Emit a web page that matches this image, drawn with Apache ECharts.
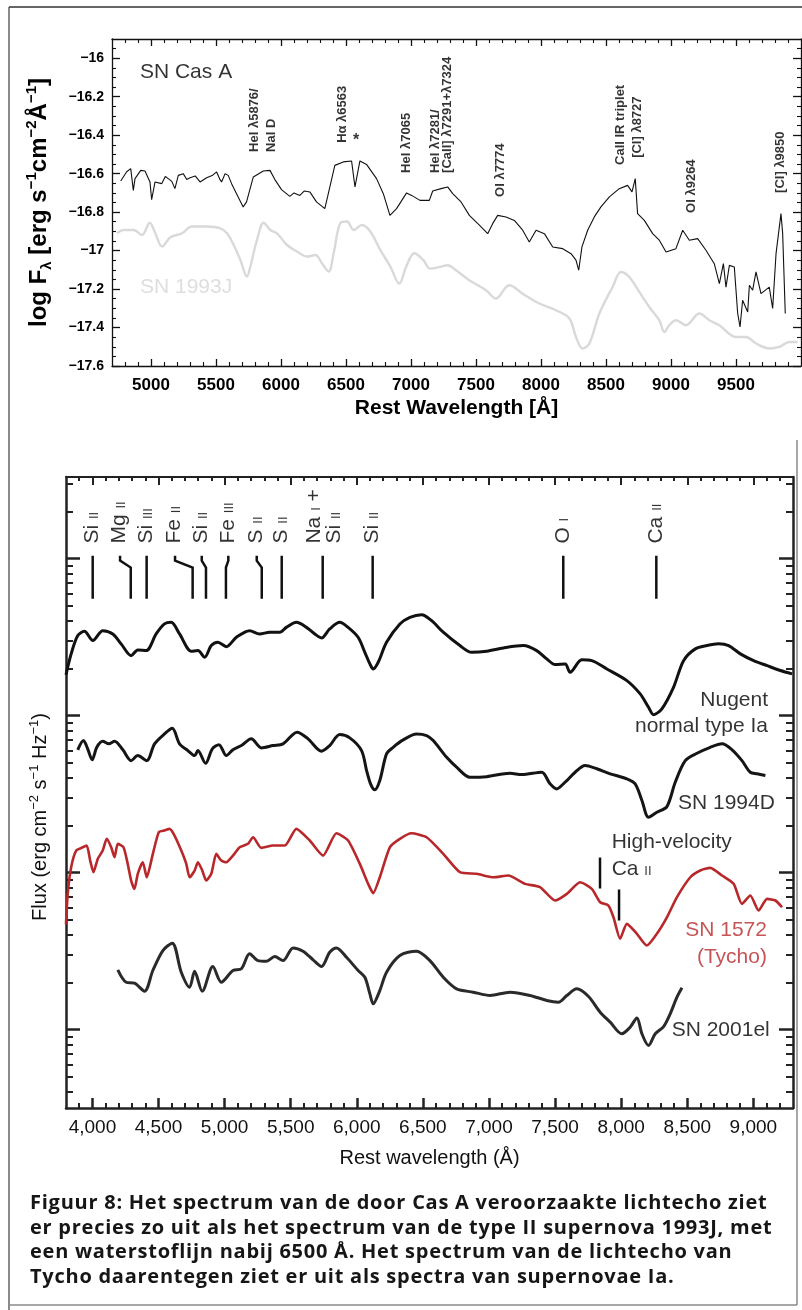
<!DOCTYPE html>
<html>
<head>
<meta charset="utf-8">
<script src="https://cdn.jsdelivr.net/npm/echarts@6/dist/echarts.min.js"></script>
<style>
html, body { margin: 0; padding: 0; background: #fff; }
#main { position: absolute; left: 0; top: 0; width: 802px; height: 1310px; }
#caption {
    position: absolute; left: 30px; top: 1190px;
    font-family: "Open Sans"; font-weight: 700; font-size: 20px; line-height: 24.5px;
    letter-spacing: 0.75px; color: #161616; white-space: nowrap;
}
</style>
</head>
<body>
<div id="main"></div>
<div id="caption">Figuur 8: Het spectrum van de door Cas A veroorzaakte lichtecho ziet<br>er precies zo uit als het spectrum van de type II supernova 1993J, met<br>een waterstoflijn nabij 6500 Å. Het spectrum van de lichtecho van<br>Tycho daarentegen ziet er uit als spectra van supernovae Ia.</div>
<script>
// ---- bovenste paneel: lichtecho Cas A vs SN 1993J (log F_lambda) ----
var casAWave = [4767, 4813, 4844, 4864, 4877, 4921, 4954, 4992, 5005, 5031, 5082, 5110, 5133, 5160, 5184, 5210, 5248, 5275, 5300, 5340, 5377, 5428, 5470, 5505, 5530, 5543, 5570, 5594, 5620, 5658, 5709, 5735, 5787, 5864, 5915, 5953, 6004, 6068, 6100, 6145, 6180, 6222, 6273, 6337, 6376, 6414, 6479, 6543, 6569, 6607, 6658, 6735, 6787, 6838, 6889, 6966, 7005, 7069, 7141, 7167, 7231, 7282, 7321, 7385, 7449, 7526, 7590, 7628, 7667, 7731, 7795, 7859, 7910, 7962, 8026, 8090, 8167, 8231, 8269, 8290, 8315, 8359, 8410, 8461, 8526, 8602, 8666, 8700, 8725, 8743, 8795, 8859, 8910, 8962, 9038, 9090, 9141, 9205, 9269, 9333, 9372, 9403, 9423, 9449, 9487, 9513, 9531, 9551, 9590, 9603, 9628, 9654, 9692, 9756, 9782, 9808, 9846, 9859, 9879];
var casAFlux = [-16.638, -16.590, -16.574, -16.687, -16.626, -16.583, -16.586, -16.643, -16.735, -16.643, -16.652, -16.615, -16.626, -16.640, -16.678, -16.609, -16.600, -16.630, -16.621, -16.612, -16.643, -16.621, -16.610, -16.591, -16.630, -16.643, -16.600, -16.609, -16.652, -16.704, -16.773, -16.747, -16.617, -16.586, -16.583, -16.631, -16.683, -16.718, -16.700, -16.713, -16.690, -16.695, -16.747, -16.782, -16.669, -16.557, -16.539, -16.534, -16.669, -16.534, -16.552, -16.626, -16.704, -16.817, -16.782, -16.700, -16.713, -16.739, -16.739, -16.690, -16.678, -16.669, -16.704, -16.747, -16.817, -16.868, -16.912, -16.860, -16.817, -16.825, -16.843, -16.894, -16.955, -16.894, -16.912, -16.981, -16.990, -17.016, -17.050, -17.102, -16.981, -16.894, -16.825, -16.773, -16.721, -16.678, -16.661, -16.695, -16.626, -16.808, -16.843, -16.912, -16.946, -17.007, -16.990, -16.894, -16.946, -16.938, -16.998, -17.068, -17.172, -17.068, -17.190, -17.077, -17.085, -17.327, -17.397, -17.258, -17.319, -17.180, -17.206, -17.111, -17.224, -17.190, -17.301, -17.016, -16.808, -16.912, -17.327];

var sn93jWave = [4738, 4790, 4867, 4931, 4990, 5033, 5085, 5149, 5238, 5315, 5431, 5533, 5585, 5636, 5687, 5738, 5764, 5815, 5867, 5918, 5969, 6046, 6123, 6200, 6264, 6315, 6367, 6405, 6456, 6508, 6559, 6623, 6687, 6764, 6841, 6910, 6962, 7026, 7095, 7146, 7223, 7282, 7346, 7449, 7577, 7654, 7756, 7859, 7987, 8115, 8218, 8269, 8320, 8372, 8449, 8551, 8615, 8679, 8756, 8833, 8910, 8949, 8987, 9038, 9115, 9218, 9295, 9372, 9500, 9577, 9654, 9756, 9833, 9910, 9974];
var sn93jFlux = [-16.910, -16.893, -16.893, -16.919, -16.855, -16.910, -16.979, -16.931, -16.910, -16.875, -16.875, -16.884, -16.910, -16.971, -17.048, -17.135, -17.083, -16.945, -16.855, -16.893, -16.910, -16.971, -17.005, -17.031, -17.023, -17.066, -17.109, -17.014, -16.858, -16.849, -16.893, -16.867, -16.901, -16.997, -17.083, -17.172, -17.085, -17.014, -17.050, -17.094, -17.085, -17.076, -17.102, -17.154, -17.206, -17.249, -17.180, -17.224, -17.275, -17.310, -17.353, -17.449, -17.509, -17.483, -17.327, -17.189, -17.111, -17.137, -17.215, -17.293, -17.362, -17.423, -17.388, -17.362, -17.388, -17.327, -17.362, -17.388, -17.449, -17.449, -17.483, -17.509, -17.501, -17.475, -17.475];

var topXTicks = [5000, 5500, 6000, 6500, 7000, 7500, 8000, 8500, 9000, 9500];
var topYTicks = [-17.6, -17.4, -17.2, -17, -16.8, -16.6, -16.4, -16.2, -16];

// lijnidentificaties bovenste paneel: tekst, golflengte, log F onderkant tekst
var topNoteText = ['HeI \u03bb5876/', 'NaI D', 'H\u03b1 \u03bb6563', 'HeI \u03bb7065', 'HeI \u03bb7281/', '[CaII] \u03bb7291+\u03bb7324', 'OI \u03bb7774', 'CaII IR triplet', '[CI] \u03bb8727', 'OI \u03bb9264', '[CI] \u03bb9850'];
var topNoteWave = [5792, 5923, 6475, 6967, 7185, 7277, 7685, 8613, 8741, 9159, 9838];
var topNoteFlux = [-16.487, -16.487, -16.44, -16.596, -16.596, -16.596, -16.721, -16.555, -16.518, -16.804, -16.70];

// ---- onderste paneel: type Ia spectra (log flux, willekeurige eenheden) ----
var nugentWave = [3800, 3839, 3889, 3939, 4003, 4078, 4154, 4217, 4293, 4343, 4407, 4482, 4545, 4596, 4659, 4748, 4798, 4849, 4899, 4949, 5013, 5089, 5189, 5265, 5341, 5417, 5467, 5543, 5619, 5682, 5733, 5795, 5871, 5934, 6010, 6061, 6099, 6124, 6162, 6225, 6326, 6402, 6490, 6566, 6654, 6780, 6869, 6983, 7109, 7260, 7361, 7437, 7500, 7576, 7614, 7702, 7778, 7892, 8043, 8144, 8207, 8245, 8308, 8396, 8472, 8561, 8649, 8737, 8813, 8902, 9002, 9104, 9205, 9293];
var nugentFlux = [2.26, 2.393, 2.51, 2.537, 2.478, 2.541, 2.52, 2.457, 2.382, 2.418, 2.414, 2.52, 2.584, 2.594, 2.52, 2.41, 2.414, 2.371, 2.446, 2.467, 2.439, 2.499, 2.541, 2.52, 2.531, 2.531, 2.562, 2.594, 2.562, 2.52, 2.495, 2.552, 2.594, 2.562, 2.499, 2.403, 2.329, 2.297, 2.34, 2.467, 2.584, 2.626, 2.643, 2.605, 2.531, 2.446, 2.403, 2.41, 2.431, 2.446, 2.414, 2.361, 2.325, 2.329, 2.276, 2.355, 2.35, 2.297, 2.223, 2.138, 2.053, 2.006, 2.043, 2.18, 2.35, 2.425, 2.446, 2.457, 2.446, 2.393, 2.35, 2.318, 2.287, 2.266];

var sn94dWave = [3889, 3932, 3964, 3998, 4033, 4078, 4124, 4167, 4230, 4293, 4343, 4411, 4470, 4545, 4604, 4659, 4722, 4773, 4798, 4856, 4907, 4957, 5013, 5063, 5127, 5202, 5278, 5366, 5442, 5548, 5631, 5733, 5795, 5871, 5947, 6036, 6074, 6104, 6136, 6174, 6225, 6275, 6351, 6452, 6528, 6578, 6680, 6755, 6856, 6983, 7159, 7248, 7399, 7462, 7513, 7563, 7589, 7652, 7727, 7816, 7917, 8043, 8106, 8157, 8207, 8270, 8346, 8409, 8485, 8574, 8674, 8763, 8839, 8914, 8977, 9028, 9091];
var sn94dFlux = [1.782, 1.841, 1.788, 1.718, 1.798, 1.836, 1.82, 1.836, 1.782, 1.713, 1.745, 1.713, 1.82, 1.883, 1.919, 1.82, 1.777, 1.745, 1.777, 1.696, 1.788, 1.815, 1.745, 1.782, 1.809, 1.852, 1.794, 1.809, 1.82, 1.894, 1.852, 1.773, 1.809, 1.879, 1.858, 1.777, 1.65, 1.565, 1.527, 1.586, 1.756, 1.798, 1.845, 1.883, 1.873, 1.841, 1.734, 1.671, 1.607, 1.611, 1.633, 1.624, 1.639, 1.565, 1.533, 1.565, 1.586, 1.639, 1.682, 1.661, 1.629, 1.597, 1.565, 1.459, 1.352, 1.384, 1.42, 1.575, 1.713, 1.76, 1.798, 1.82, 1.782, 1.713, 1.639, 1.629, 1.618];

var tychoWave = [3800, 3813, 3839, 3877, 3927, 3957, 3983, 4008, 4040, 4078, 4108, 4142, 4167, 4192, 4235, 4267, 4293, 4318, 4343, 4381, 4411, 4457, 4502, 4545, 4583, 4621, 4672, 4710, 4735, 4773, 4798, 4831, 4861, 4899, 4937, 4975, 5013, 5063, 5114, 5177, 5215, 5278, 5366, 5455, 5543, 5644, 5745, 5846, 5934, 6023, 6086, 6124, 6174, 6250, 6326, 6414, 6528, 6654, 6780, 6907, 7033, 7146, 7273, 7386, 7500, 7589, 7689, 7778, 7841, 7904, 7942, 7992, 8043, 8119, 8194, 8270, 8346, 8422, 8523, 8599, 8674, 8763, 8851, 8914, 8977, 9040, 9104, 9167, 9217];
var tychoFlux = [0.67, 0.864, 1.034, 1.14, 1.161, 1.172, 1.076, 1.002, 1.087, 1.14, 1.215, 1.161, 1.098, 1.183, 1.161, 1.055, 0.949, 0.896, 0.992, 1.066, 0.97, 1.119, 1.257, 1.268, 1.278, 1.236, 1.14, 1.055, 0.97, 1.013, 1.066, 1.013, 0.949, 0.992, 1.119, 1.076, 1.066, 1.108, 1.161, 1.183, 1.225, 1.157, 1.172, 1.172, 1.278, 1.204, 1.108, 1.25, 1.204, 1.055, 0.928, 0.868, 0.97, 1.161, 1.215, 1.25, 1.225, 1.119, 1.002, 0.992, 0.97, 0.981, 0.928, 0.907, 0.822, 0.864, 0.938, 0.896, 0.811, 0.79, 0.715, 0.578, 0.673, 0.61, 0.535, 0.61, 0.715, 0.843, 0.97, 1.013, 1.03, 0.981, 0.928, 0.8, 0.854, 0.758, 0.832, 0.822, 0.779];

var sn01elWave = [4192, 4255, 4318, 4394, 4457, 4533, 4604, 4672, 4735, 4773, 4831, 4911, 4975, 5063, 5127, 5189, 5252, 5316, 5379, 5442, 5518, 5593, 5669, 5733, 5795, 5846, 5922, 6010, 6061, 6099, 6124, 6174, 6225, 6326, 6452, 6553, 6654, 6755, 6881, 7008, 7159, 7311, 7437, 7525, 7589, 7664, 7753, 7841, 7917, 8005, 8068, 8119, 8157, 8207, 8258, 8321, 8371, 8422, 8460];
var sn01elFlux = [0.38, 0.301, 0.295, 0.244, 0.376, 0.503, 0.55, 0.365, 0.269, 0.371, 0.244, 0.401, 0.301, 0.376, 0.387, 0.482, 0.439, 0.435, 0.465, 0.439, 0.52, 0.499, 0.444, 0.401, 0.492, 0.52, 0.46, 0.376, 0.333, 0.227, 0.164, 0.248, 0.365, 0.471, 0.499, 0.439, 0.333, 0.259, 0.238, 0.217, 0.238, 0.217, 0.185, 0.174, 0.217, 0.259, 0.21, 0.11, 0.047, -0.027, 0.015, 0.074, -0.027, -0.102, -0.027, 0.019, 0.1, 0.206, 0.266];

var botXTicks = [4000, 4500, 5000, 5500, 6000, 6500, 7000, 7500, 8000, 8500, 9000];
var botYDecades = [0, 1, 2, 3];

// lijnidentificaties onderste paneel
var idText = ['{a|Si} {s|II}', '{a|Mg} {s|II}', '{a|Si} {s|III}', '{a|Fe} {s|II}', '{a|Si} {s|II}', '{a|Fe} {s|III}', '{a|S} {s|II}', '{a|S} {s|II}', '{a|Na} {s|I} {a|+}\n{a|Si} {s|II}', '{a|Si} {s|II}', '{a|O} {s|I}', '{a|Ca} {s|II}'];
var idTopWave = [4002, 4209, 4410, 4625, 4827, 5028, 5243, 5432, 5742, 6120, 7562, 8266];
var idBottomWave = [4002, 4290, 4410, 4758, 4859, 5010, 5281, 5432, 5742, 6120, 7562, 8266];
var idLabelWave = [4002, 4209, 4410, 4625, 4827, 5028, 5243, 5432, 5759, 6120, 7562, 8266];
var hvCaWave = [7840, 7984];

var FONT = 'Liberation Sans';

function zip(w, f) {
    return w.map(function (x, i) { return [x, f[i]]; });
}
function steps(a, b, d, skip) {
    var out = [];
    for (var v = a; v <= b + 1e-9; v += d) {
        v = Math.round(v * 1000) / 1000;
        if (skip && Math.abs(v / skip - Math.round(v / skip)) < 1e-6) continue;
        out.push(v);
    }
    return out;
}
var botYMinor = [];
for (var n = -1; n <= 3; n++) {
    for (var k = 2; k <= 9; k++) {
        var lv = n + Math.log10(k);
        if (lv > -0.5 && lv < 3.52) botYMinor.push(lv);
    }
}

function tickAxis(grid, pos, min, max, major, len, width, color, showLine) {
    return {
        type: 'value', gridIndex: grid, position: pos, min: min, max: max,
        axisLine: { show: showLine, onZero: false, lineStyle: { color: color, width: width } },
        axisTick: { show: true, inside: true, length: len, customValues: major, lineStyle: { color: color, width: width } },
        axisLabel: { show: false },
        splitLine: { show: false }
    };
}

// rijke tekst: kleine romeinse cijfers op de basislijn
function richSet(size, lh, color) {
    return {
        a: { fontFamily: FONT, fontSize: size, lineHeight: lh, verticalAlign: 'bottom', color: color },
        s: { fontFamily: FONT, fontSize: 13, lineHeight: 13, verticalAlign: 'bottom', padding: [0, 0, 2, 0], color: color }
    };
}

var chart = echarts.init(document.getElementById('main'));

var xTopMain = tickAxis(0, 'bottom', 4700, 10000, topXTicks, 7, 1.3, '#111', true);
xTopMain.axisLabel = {
    show: true, customValues: topXTicks, margin: 11,
    fontFamily: FONT, fontWeight: 'bold', fontSize: 17, color: '#000',
    formatter: function (v) { return String(v); }
};
xTopMain.name = 'Rest Wavelength [\u00c5]';
xTopMain.nameLocation = 'middle';
xTopMain.nameGap = 32;
xTopMain.nameTextStyle = { fontFamily: FONT, fontWeight: 'bold', fontSize: 21, color: '#000' };

var yTopMain = tickAxis(0, 'left', -17.6, -15.9, topYTicks, 8, 1.3, '#111', true);
yTopMain.axisLabel = {
    show: true, customValues: topYTicks, margin: 8,
    fontFamily: FONT, fontWeight: 'bold', fontSize: 14, color: '#000',
    formatter: function (v) { return '\u2212' + (Math.round(Math.abs(v) * 10) / 10).toString(); }
};
yTopMain.name = '{b|log F}{s|\u03bb}{b| [erg s}{p|\u22121}{b|cm}{p|\u22122}{b|\u00c5}{p|\u22121}{b|]}';
yTopMain.nameLocation = 'middle';
yTopMain.nameGap = 58;
yTopMain.nameTextStyle = {
    fontFamily: FONT, fontWeight: 'bold', fontSize: 24, color: '#000',
    rich: {
        b: { fontFamily: FONT, fontWeight: 'bold', fontSize: 24, lineHeight: 30, color: '#000' },
        s: { fontFamily: FONT, fontWeight: 'bold', fontSize: 15, lineHeight: 30, verticalAlign: 'bottom', color: '#000' },
        p: { fontFamily: FONT, fontWeight: 'bold', fontSize: 15, lineHeight: 30, verticalAlign: 'top', color: '#000' }
    }
};

var xBotMain = tickAxis(1, 'bottom', 3800, 9300, botXTicks, 10, 2.5, '#222', true);
xBotMain.axisLabel = {
    show: true, customValues: botXTicks, margin: 10,
    fontFamily: FONT, fontSize: 19, color: '#111',
    formatter: function (v) { return v.toLocaleString('en-US'); }
};
xBotMain.name = 'Rest wavelength (\u00c5)';
xBotMain.nameLocation = 'middle';
xBotMain.nameGap = 40;
xBotMain.nameTextStyle = { fontFamily: FONT, fontSize: 20, color: '#111' };

var option = {
    animation: false,
    backgroundColor: '#fff',
    grid: [
        { left: 112, top: 39, width: 689, height: 327, outerBoundsMode: 'none' },
        { left: 66, top: 477, width: 727, height: 631, outerBoundsMode: 'none' }
    ],
    xAxis: [
        xTopMain,
        tickAxis(0, 'bottom', 4700, 10000, steps(4800, 9900, 100, 500), 4, 1.1, '#111', false),
        tickAxis(0, 'top', 4700, 10000, topXTicks, 7, 1.3, '#111', true),
        tickAxis(0, 'top', 4700, 10000, steps(4800, 9900, 100, 500), 4, 1.1, '#111', false),
        xBotMain,
        tickAxis(1, 'bottom', 3800, 9300, steps(3900, 9200, 100, 500), 5, 2, '#222', false),
        tickAxis(1, 'top', 3800, 9300, botXTicks, 8, 2, '#222', true),
        tickAxis(1, 'top', 3800, 9300, steps(3900, 9200, 100, 500), 4, 2, '#222', false)
    ],
    yAxis: [
        yTopMain,
        tickAxis(0, 'left', -17.6, -15.9, steps(-17.55, -15.95, 0.05, 0.2), 4, 1.1, '#111', false),
        tickAxis(0, 'right', -17.6, -15.9, topYTicks, 8, 1.3, '#111', true),
        tickAxis(0, 'right', -17.6, -15.9, steps(-17.55, -15.95, 0.05, 0.2), 4, 1.1, '#111', false),
        tickAxis(1, 'left', -0.5, 3.52, botYDecades, 14, 2.5, '#222', true),
        tickAxis(1, 'left', -0.5, 3.52, botYMinor, 7, 2, '#222', false),
        tickAxis(1, 'right', -0.5, 3.52, botYDecades, 14, 2.5, '#222', true),
        tickAxis(1, 'right', -0.5, 3.52, botYMinor, 7, 2, '#222', false)
    ],
    graphic: [
        { type: 'line', silent: true, shape: { x1: 9, y1: 7, x2: 9, y2: 1310 }, style: { stroke: '#8a8a8a', lineWidth: 2 } },
        { type: 'line', silent: true, shape: { x1: 9, y1: 7, x2: 802, y2: 7 }, style: { stroke: '#333', lineWidth: 1.5 } },
        { type: 'line', silent: true, shape: { x1: 797, y1: 440, x2: 797, y2: 1305 }, style: { stroke: '#8a8a8a', lineWidth: 1.5 } },
        { type: 'line', silent: true, shape: { x1: 9, y1: 1305, x2: 797, y2: 1305 }, style: { stroke: '#8a8a8a', lineWidth: 1.5 } },
        {
            type: 'text', silent: true, x: 40, y: 817, rotation: Math.PI / 2,
            style: {
                text: '{b|Flux (erg cm}{p|\u22122}{b| s}{p|\u22121}{b| Hz}{p|\u22121}{b|)}',
                align: 'center', verticalAlign: 'middle',
                rich: {
                    b: { fontFamily: FONT, fontSize: 20, lineHeight: 24, fill: '#111', color: '#111' },
                    p: { fontFamily: FONT, fontSize: 13, lineHeight: 24, verticalAlign: 'top', fill: '#111', color: '#111' }
                }
            }
        }
    ],
    series: [
        {
            type: 'line', name: 'SN 1993J', xAxisIndex: 0, yAxisIndex: 0,
            data: zip(sn93jWave, sn93jFlux), showSymbol: false, smooth: 0.35,
            lineStyle: { color: '#d9d9d9', width: 2.4 }, z: 2, silent: true
        },
        {
            type: 'line', name: 'SN Cas A', xAxisIndex: 0, yAxisIndex: 0,
            data: zip(casAWave, casAFlux), showSymbol: false,
            lineStyle: { color: '#111', width: 1.1 }, z: 3, silent: true
        },
        {
            type: 'scatter', xAxisIndex: 0, yAxisIndex: 0, symbolSize: 0, silent: true, z: 5,
            data: topNoteText.map(function (t, i) {
                return { value: [topNoteWave[i], topNoteFlux[i]], label: { formatter: t } };
            }),
            label: {
                show: true, position: 'inside', rotate: 90, align: 'left', verticalAlign: 'middle',
                fontFamily: FONT, fontWeight: 'bold', fontSize: 13, color: '#000'
            }
        },
        {
            type: 'scatter', xAxisIndex: 0, yAxisIndex: 0, symbolSize: 0, silent: true, z: 5,
            data: [
                { value: [4915, -16.074], label: { formatter: 'SN Cas A', color: '#000' } },
                { value: [4915, -17.188], label: { formatter: 'SN 1993J', color: '#d6d6d6' } },
                { value: [6577, -16.43], label: { formatter: '*', align: 'center', fontWeight: 'bold', fontSize: 16 } }
            ],
            label: {
                show: true, position: 'inside', align: 'left', verticalAlign: 'middle',
                fontFamily: FONT, fontSize: 21, color: '#000'
            }
        },
        {
            type: 'line', name: 'Nugent normal type Ia', xAxisIndex: 4, yAxisIndex: 4,
            data: zip(nugentWave, nugentFlux), showSymbol: false, smooth: 0.3,
            lineStyle: { color: '#111', width: 3 }, silent: true
        },
        {
            type: 'line', name: 'SN 1994D', xAxisIndex: 4, yAxisIndex: 4,
            data: zip(sn94dWave, sn94dFlux), showSymbol: false, smooth: 0.3,
            lineStyle: { color: '#151515', width: 3 }, silent: true
        },
        {
            type: 'line', name: 'SN 1572 (Tycho)', xAxisIndex: 4, yAxisIndex: 4,
            data: zip(tychoWave, tychoFlux), showSymbol: false, smooth: 0.2,
            lineStyle: { color: '#b8282b', width: 2.6 }, silent: true
        },
        {
            type: 'line', name: 'SN 2001el', xAxisIndex: 4, yAxisIndex: 4,
            data: zip(sn01elWave, sn01elFlux), showSymbol: false, smooth: 0.3,
            lineStyle: { color: '#2a2a2a', width: 3 }, silent: true
        },
        {
            type: 'lines', coordinateSystem: 'cartesian2d', xAxisIndex: 4, yAxisIndex: 4,
            polyline: true, silent: true, z: 4,
            data: idTopWave.map(function (w, i) {
                return { coords: [[w, 3.019], [w, 2.987], [idBottomWave[i], 2.943], [idBottomWave[i], 2.745]] };
            }).concat([
                { coords: [[hvCaWave[0], 1.096], [hvCaWave[0], 0.898]] },
                { coords: [[hvCaWave[1], 0.892], [hvCaWave[1], 0.694]] }
            ]),
            lineStyle: { color: '#111', width: 2.5, opacity: 1, curveness: 0 }
        },
        {
            type: 'scatter', xAxisIndex: 4, yAxisIndex: 4, symbolSize: 0, silent: true, z: 5,
            data: idText.map(function (t, i) {
                return { value: [idLabelWave[i], 3.096], label: { formatter: t } };
            }),
            label: {
                show: true, position: 'inside', rotate: 90, align: 'left', verticalAlign: 'middle',
                fontFamily: FONT, fontSize: 21, color: '#000', lineHeight: 20,
                rich: richSet(21, 20, '#000')
            }
        },
        {
            type: 'scatter', xAxisIndex: 4, yAxisIndex: 4, symbolSize: 0, silent: true, z: 5,
            data: [
                { value: [9111, 2.096], label: { formatter: 'Nugent', align: 'right' } },
                { value: [9111, 1.93], label: { formatter: 'normal type Ia', align: 'right' } },
                { value: [8430, 1.44], label: { formatter: 'SN 1994D' } },
                { value: [7928, 1.191], label: { formatter: 'High-velocity' } },
                { value: [7928, 1.032], label: { formatter: '{a|Ca} {s|II}' } },
                { value: [9103, 0.631], label: { formatter: 'SN 1572', align: 'right', color: '#b8282b' } },
                { value: [9103, 0.459], label: { formatter: '(Tycho)', align: 'right', color: '#b8282b' } },
                { value: [8382, -0.006], label: { formatter: 'SN 2001el' } }
            ],
            label: {
                show: true, position: 'inside', align: 'left', verticalAlign: 'middle',
                fontFamily: FONT, fontSize: 21, color: '#000',
                rich: richSet(21, 24, '#000')
            }
        }
    ]
};

chart.setOption(option);
</script>
</body>
</html>
